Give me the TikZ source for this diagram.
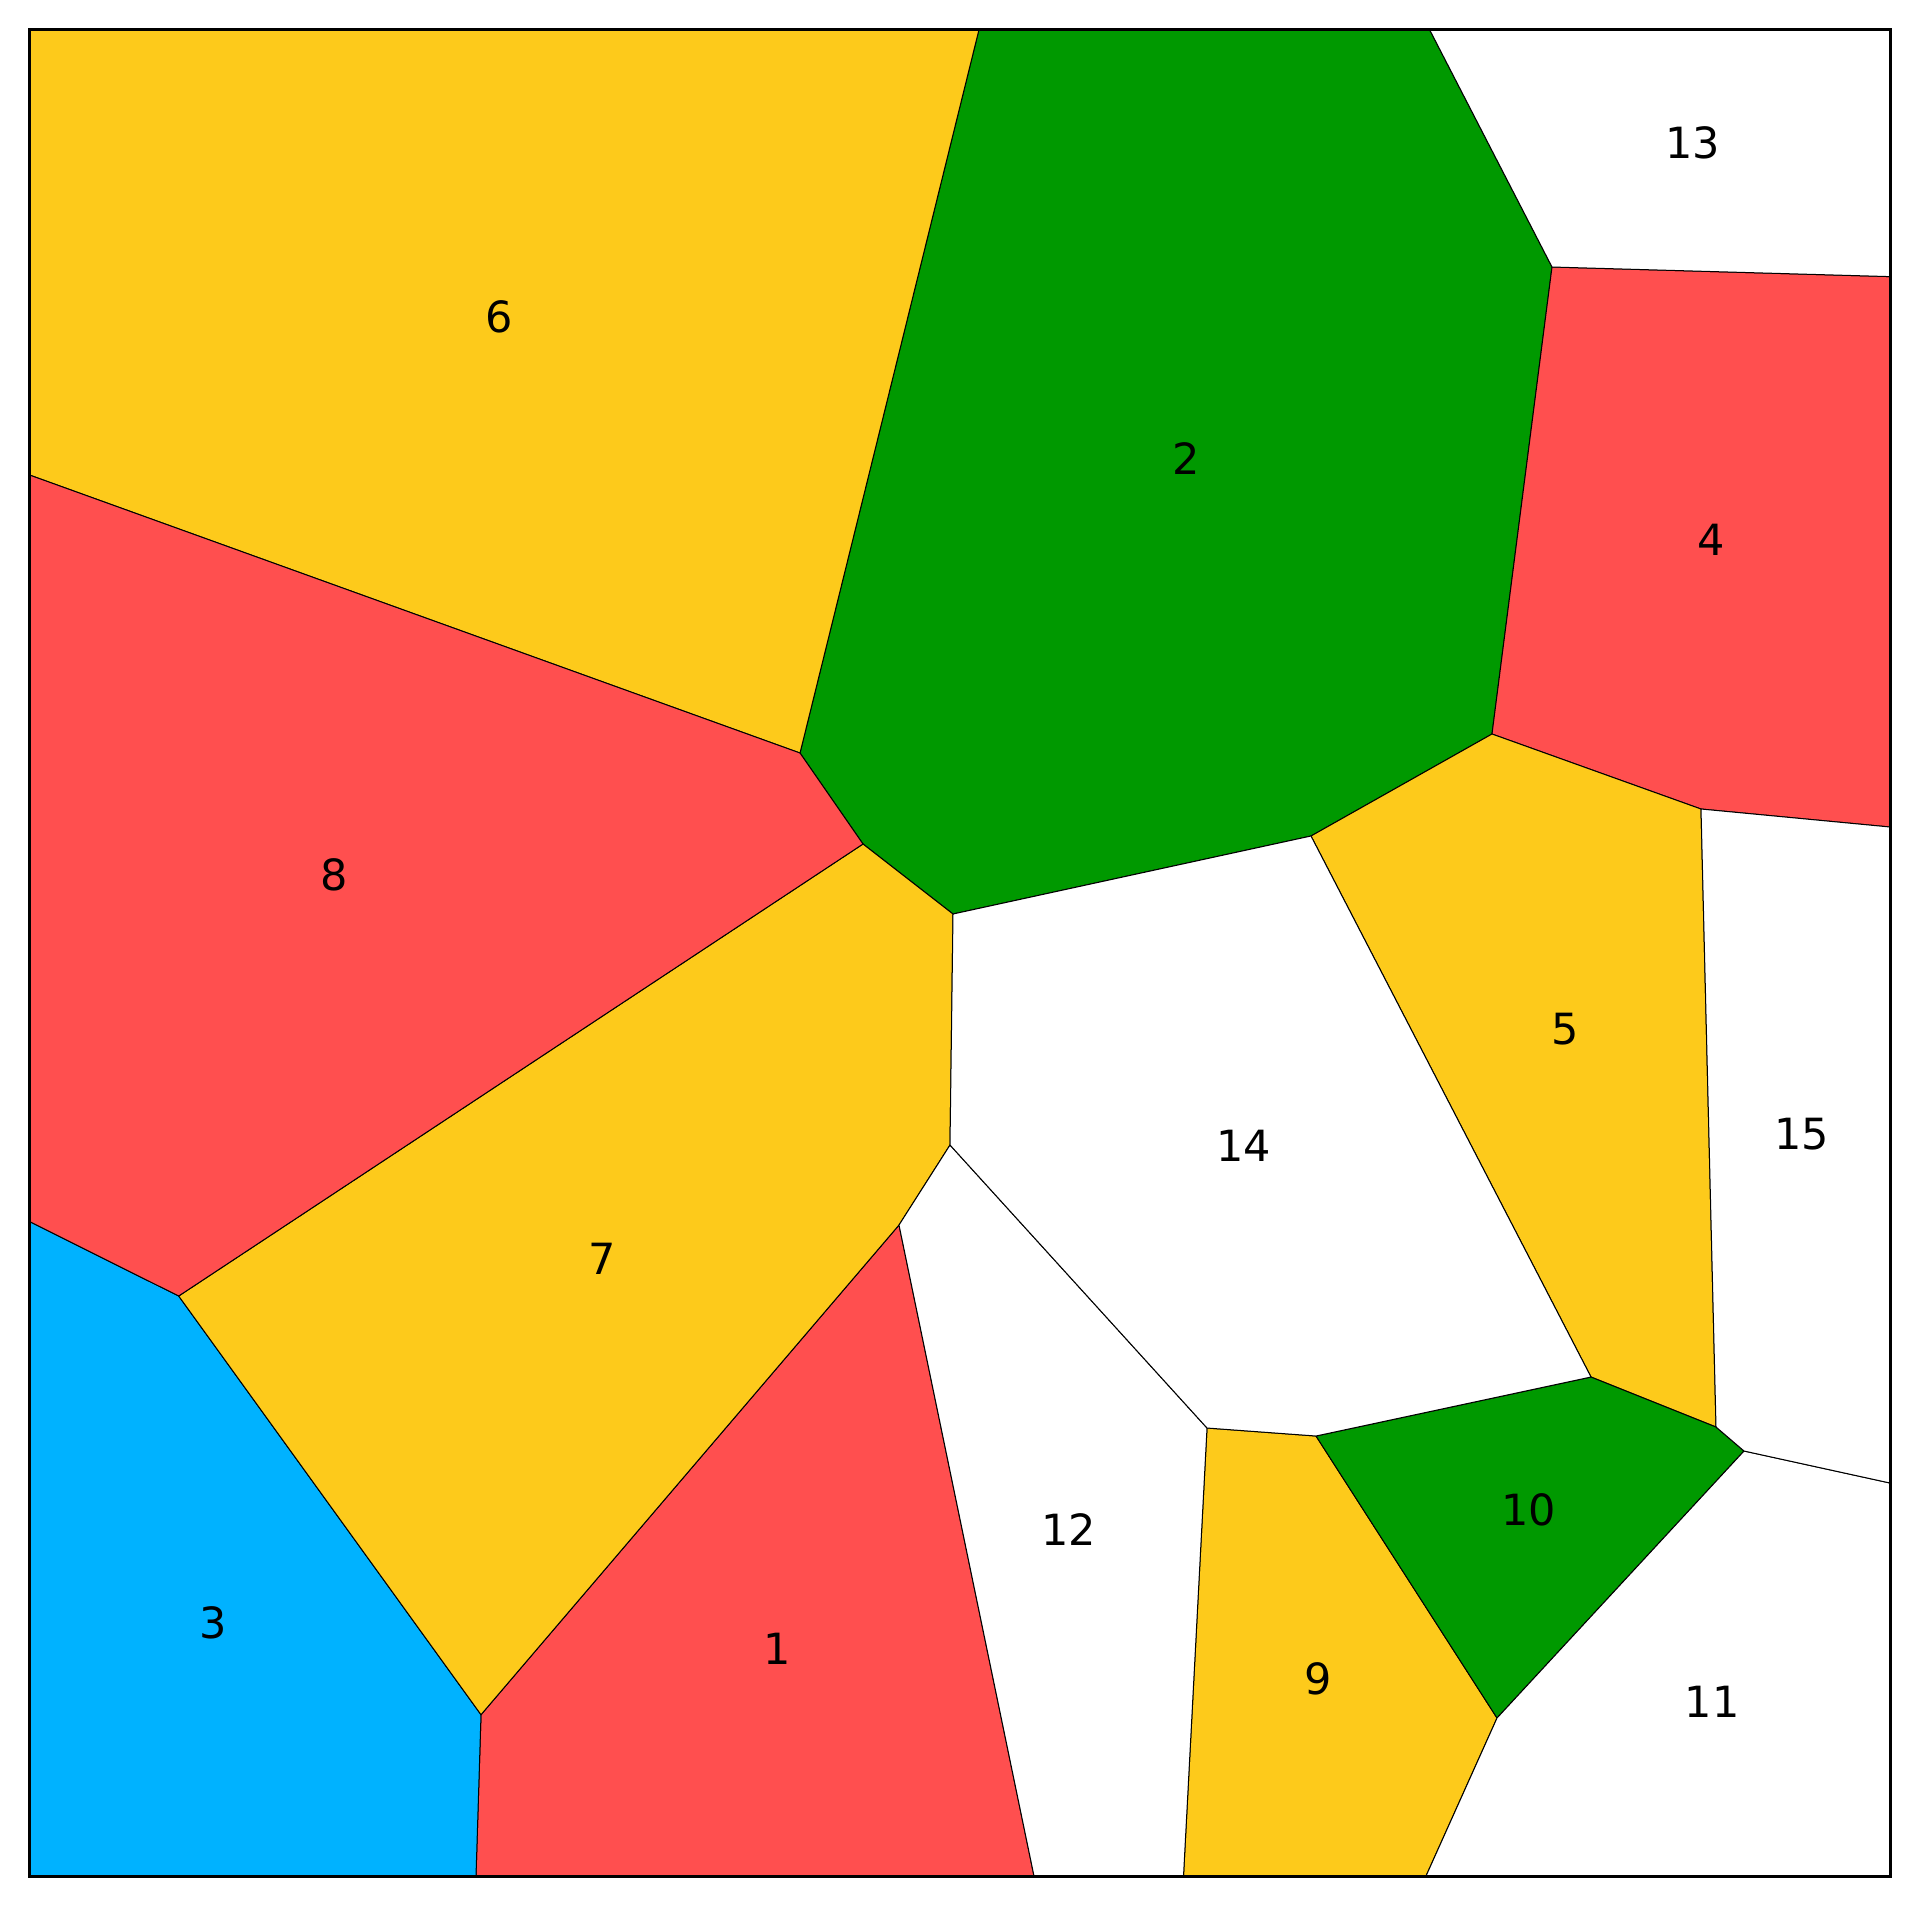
\documentclass[tikz,border=0pt]{standalone}
\usepackage{fontspec}
\setmainfont{DejaVu Sans}
\definecolor{cyel}{HTML}{FDCA1B}
\definecolor{cred}{HTML}{FF4F4F}
\definecolor{cgrn}{HTML}{009900}
\definecolor{cblu}{HTML}{00B2FF}
\begin{document}
\begin{tikzpicture}[x=1pt,y=-1pt,
  cell/.style={draw=black,line width=1pt,line join=miter},
  lab/.style={font=\fontsize{43}{50}\selectfont,inner sep=0pt,xshift=2.5pt}]
\useasboundingbox (0,0) rectangle (1919,1907);
\fill[white] (0,0) rectangle (1919,1907);
% frame corners
\coordinate (TL) at (29.5,29.5);
\coordinate (TR) at (1890,29.5);
\coordinate (BL) at (29.5,1876);
\coordinate (BR) at (1890,1876);
% vertices
\coordinate (A) at (979,29.5);
\coordinate (B) at (1429.5,29.5);
\coordinate (C) at (1552,267);
\coordinate (D) at (1890,276.6);
\coordinate (E) at (1492,734);
\coordinate (F) at (1701,809);
\coordinate (G) at (1890,827);
\coordinate (H) at (1311,836);
\coordinate (I) at (800,753);
\coordinate (J) at (29.5,475);
\coordinate (K) at (863,844);
\coordinate (L) at (953,914);
\coordinate (M) at (950,1145);
\coordinate (N) at (899,1225);
\coordinate (O) at (178.7,1296);
\coordinate (P) at (29.5,1221.5);
\coordinate (Q) at (481,1714.7);
\coordinate (R) at (476,1876);
\coordinate (S) at (1034,1876);
\coordinate (T) at (1207,1428);
\coordinate (U) at (1316,1436);
\coordinate (V) at (1591,1377);
\coordinate (W) at (1716,1427);
\coordinate (X) at (1744,1451);
\coordinate (Y) at (1890,1483);
\coordinate (Z) at (1497,1718);
\coordinate (AA) at (1183.5,1876);
\coordinate (AB) at (1426,1876);
% cells
\filldraw[cell,fill=cred] (N) -- (Q) -- (R) -- (S) -- cycle;
\filldraw[cell,fill=cgrn] (A) -- (B) -- (C) -- (E) -- (H) -- (L) -- (K) -- (I) -- cycle;
\filldraw[cell,fill=cblu] (P) -- (O) -- (Q) -- (R) -- (BL) -- cycle;
\filldraw[cell,fill=cred] (C) -- (D) -- (G) -- (F) -- (E) -- cycle;
\filldraw[cell,fill=cyel] (E) -- (F) -- (W) -- (V) -- (H) -- cycle;
\filldraw[cell,fill=cyel] (TL) -- (A) -- (I) -- (J) -- cycle;
\filldraw[cell,fill=cyel] (K) -- (L) -- (M) -- (N) -- (Q) -- (O) -- cycle;
\filldraw[cell,fill=cred] (J) -- (I) -- (K) -- (O) -- (P) -- cycle;
\filldraw[cell,fill=cyel] (T) -- (U) -- (Z) -- (AB) -- (AA) -- cycle;
\filldraw[cell,fill=cgrn] (U) -- (V) -- (W) -- (X) -- (Z) -- cycle;
\filldraw[cell,fill=white] (X) -- (Y) -- (BR) -- (AB) -- (Z) -- cycle;
\filldraw[cell,fill=white] (M) -- (T) -- (AA) -- (S) -- (N) -- cycle;
\filldraw[cell,fill=white] (B) -- (TR) -- (D) -- (C) -- cycle;
\filldraw[cell,fill=white] (L) -- (H) -- (V) -- (U) -- (T) -- (M) -- cycle;
\filldraw[cell,fill=white] (F) -- (G) -- (Y) -- (X) -- (W) -- cycle;
% frame
\draw[line width=3pt] (TL) rectangle (BR);
% labels
\node[lab] (l6) at (497,317) {6};
\node[lab] (l2) at (1183.5,459) {2};
\node[lab] (l13) at (1690,143) {13};
\node[lab] (l4) at (1708.5,540) {4};
\node[lab] (l8) at (331.7,875) {8};
\node[lab] (l5) at (1563,1029) {5};
\node[lab] (l15) at (1799,1134.6) {15};
\node[lab] (l14) at (1241,1145.6) {14};
\node[lab] (l7) at (599.7,1259) {7};
\node[lab] (l10) at (1526,1510) {10};
\node[lab] (l12) at (1066,1530) {12};
\node[lab] (l3) at (210.5,1623) {3};
\node[lab] (l1) at (774.7,1648.6) {1};
\node[lab] (l9) at (1315.7,1679) {9};
\node[lab] (l11) at (1709.8,1702) {11};
\end{tikzpicture}
\end{document}
